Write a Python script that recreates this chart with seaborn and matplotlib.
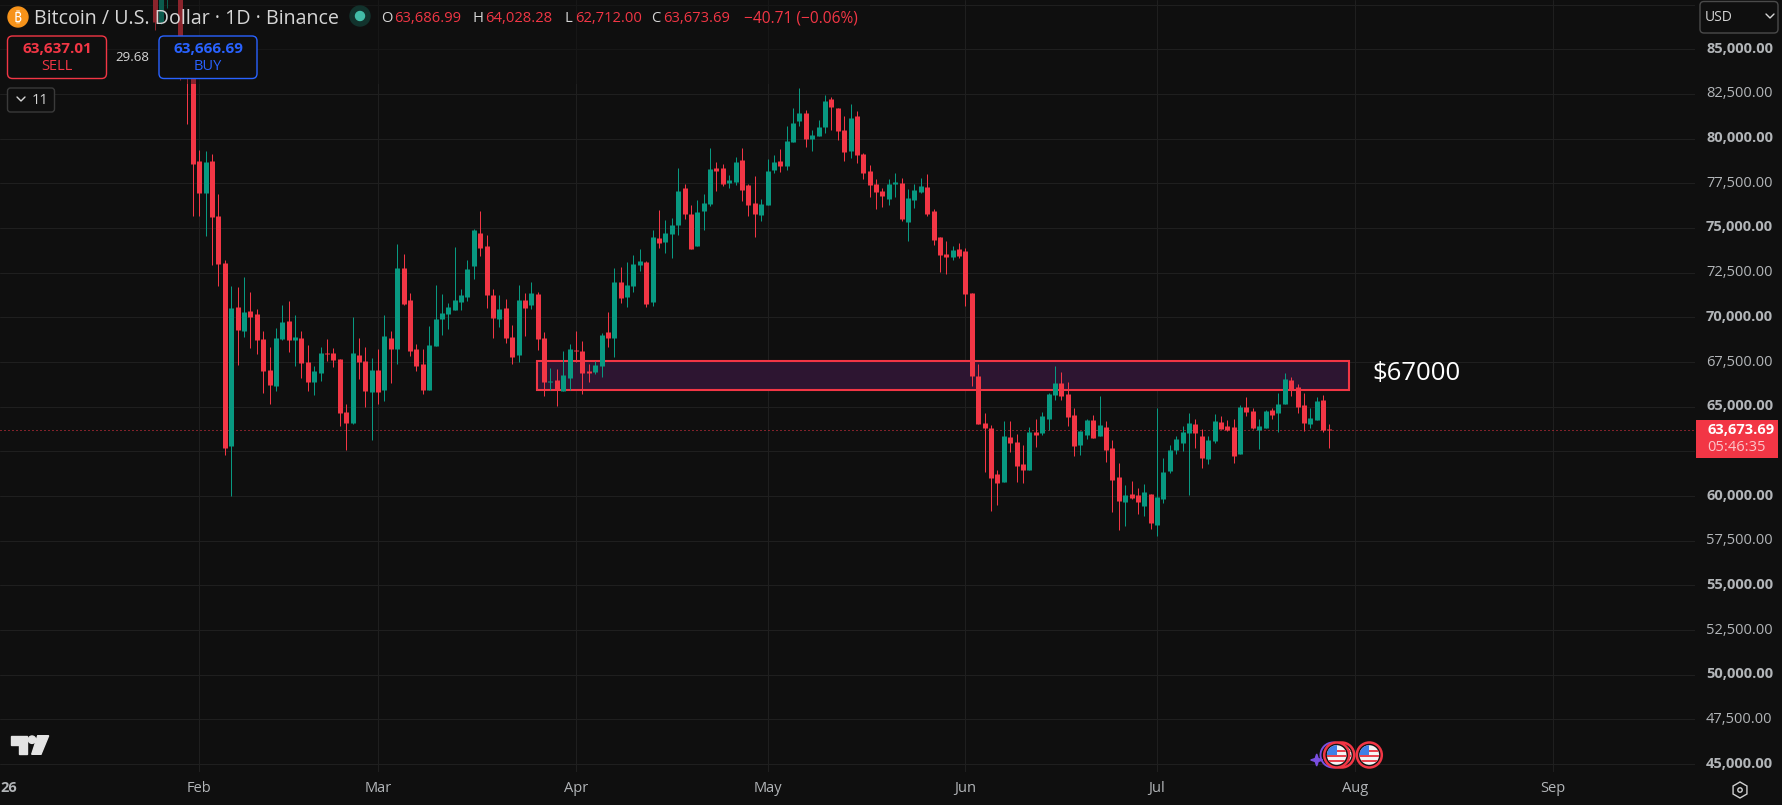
import numpy as np
import pandas as pd
import seaborn as sns
import matplotlib.pyplot as plt
import matplotlib.dates as mdates
from matplotlib.lines import Line2D
from matplotlib.patches import Circle, FancyBboxPatch, Polygon, Rectangle, RegularPolygon
from matplotlib.transforms import Affine2D

W, H = 1782, 805
BG = '#0f0f0f'
RED = '#f23645'
GREEN = '#089981'
BLUE = '#2962ff'
GRID = '#1f1f1f'
LABEL = '#b2b5b8'

# daily candles, 25 Jan to 28 Jul 2026
first_day = '2026-01-25'
opens = [88500, 86550, 88000, 89500, 88800, 85000, 84000,
         78750, 76960, 78750, 75673, 73025, 62823, 70581, 69257, 70358, 70189,
         68791, 67056, 66180, 68791, 69798, 68753, 68847, 67504, 66404, 66907,
         68007, 68007, 67672, 64706, 64090, 67895, 67560, 65844, 67056, 65956,
         68847, 68250, 72745, 70973, 68213, 67392, 65956, 68418, 69910, 70189,
         70413, 70861, 71140, 72875, 74721, 73994, 71252, 69909, 70525, 68902,
         67895, 70973, 70693, 71308, 68846, 66385, 66497, 65881, 66608, 68175,
         68119, 67000, 66944, 67280, 69182, 68846, 71980, 71140, 71756, 72931,
         73099, 70861, 74441, 74217, 74665, 75169, 77239, 75784, 73994, 75952,
         76344, 78358, 78358, 77519, 77575, 78807, 77408, 76401, 75729, 76289,
         78247, 78751, 78471, 79814, 80989, 81436, 79981, 80149, 80653, 82219,
         81716, 80485, 79310, 81268, 79142, 78191, 77464, 77072, 76624, 77464,
         77520, 75338, 76569, 77016, 77296, 75953, 74498, 73547, 73379, 73827,
         73715, 71365, 66719, 64089, 63809, 61236, 60788, 63306, 63026, 61795,
         61460, 63585, 63530, 64313, 65656, 66327, 65712, 64537, 62858, 63418,
         64257, 63362, 63865, 62690, 61068, 59669, 60117, 60061, 59445, 60117,
         58382, 59837, 61404, 62578, 62970, 63530, 64033, 63361, 62074, 63081,
         64144, 63920, 63864, 62354, 64983, 64760, 63696, 63808, 64816, 64648,
         65151, 66494, 66102, 65095, 64032, 64256, 65375, 63686.99]
highs = [89000, 88800, 89500, 90000, 89500, 85200, 84100,
         79365, 79310, 79142, 76885, 73192, 71738, 71682, 72241, 71402, 70451,
         69220, 68325, 69406, 70675, 70899, 70115, 69220, 68455, 67280, 68325,
         68772, 68269, 67672, 65154, 70003, 68828, 68325, 67709, 68213, 70115,
         69220, 74088, 73528, 71346, 68493, 68213, 69500, 71794, 71309, 70787,
         73938, 71588, 73211, 74945, 75952, 74609, 71588, 71252, 71028, 69574,
         71812, 71364, 71980, 71420, 69182, 67168, 67112, 68119, 68511, 69238,
         68679, 67392, 67559, 69126, 70301, 72763, 72819, 73099, 73490, 73826,
         73155, 74889, 76008, 75448, 75560, 78358, 77463, 76288, 76567, 76903,
         79478, 78694, 78582, 77966, 78974, 79478, 77464, 77911, 76624, 78862,
         79086, 79422, 80709, 81716, 82835, 81604, 80485, 81044, 82443, 82331,
         81716, 81268, 81940, 81548, 79198, 78527, 77743, 77240, 77743, 78079,
         77799, 77184, 77464, 77799, 78023, 76065, 74498, 74275, 73995, 74163,
         73883, 71365, 67390, 64649, 63977, 61460, 64182, 64182, 63474, 62858,
         63865, 64313, 64705, 65768, 67278, 66942, 66383, 64928, 63642, 64313,
         64537, 65600, 64182, 63138, 61851, 60620, 60844, 60452, 60676, 60117,
         64928, 62131, 62858, 63362, 63921, 64649, 64313, 63752, 63361, 64592,
         64480, 64256, 64312, 65095, 65543, 64928, 64312, 64816, 64928, 65767,
         66886, 66662, 66270, 65767, 64928, 65543, 65655, 64028.28]
lows = [86080, 86400, 87311, 88200, 83282, 80839, 75692,
        75692, 74572, 72950, 71775, 62320, 60025, 67355, 68921, 68306, 67970,
        65788, 65173, 65900, 68735, 68082, 67299, 66628, 65900, 65676, 66460,
        67578, 67243, 63942, 62600, 64054, 66553, 65005, 63159, 65173, 65341,
        66348, 67411, 70693, 67858, 67019, 65732, 65956, 68418, 69015, 69350,
        70413, 70413, 70917, 72147, 73434, 70525, 68846, 69462, 68567, 67392,
        67504, 68958, 70469, 68175, 65601, 65937, 65042, 65881, 65937, 67500,
        65713, 66385, 66832, 66664, 68343, 67783, 70804, 70581, 71420, 72595,
        70581, 70637, 73882, 73602, 73322, 74609, 75504, 73826, 73994, 74889,
        76232, 77071, 77351, 77239, 77407, 76513, 75673, 74498, 75394, 76289,
        78079, 78135, 78247, 79814, 80709, 79534, 79310, 80149, 80317, 80485,
        79926, 78751, 78918, 78639, 77743, 76736, 76065, 76177, 76289, 76736,
        75394, 74275, 76121, 76960, 75673, 74051, 72540, 72428, 73211, 73323,
        70638, 66159, 64033, 61348, 59166, 59501, 60788, 62467, 60788, 60732,
        61460, 62746, 63418, 63698, 65376, 65376, 63921, 62243, 62299, 63194,
        63250, 63362, 61907, 59110, 58102, 58327, 59837, 58998, 58886, 58158,
        57767, 59613, 61292, 62355, 62523, 60068, 62690, 61570, 61794, 62969,
        63752, 63622, 61850, 62354, 64480, 63752, 62634, 63808, 64312, 63585,
        65151, 65599, 64648, 63641, 63808, 64256, 63585, 62712.00]
closes = [86528, 88200, 88900, 88800, 84401, 84000, 78582,
          76960, 78694, 75635, 73006, 62711, 70525, 69313, 70302, 70040, 68753,
          67019, 66236, 68847, 69742, 68753, 68903, 67467, 66404, 67001, 68007,
          67951, 67634, 64669, 64109, 68007, 67504, 65900, 67056, 65844, 68959,
          68250, 72745, 70749, 68138, 67299, 65956, 68437, 69910, 70245, 70581,
          70973, 71252, 72707, 74889, 73882, 71252, 69965, 70469, 68846, 67783,
          70973, 70525, 71364, 68790, 66385, 66441, 65937, 66776, 68231, 68119,
          66888, 66888, 67336, 69014, 68846, 71980, 71084, 71812, 72987, 73155,
          70749, 74497, 74162, 74721, 75169, 77071, 75784, 73826, 75896, 76400,
          78302, 78190, 77463, 77686, 78694, 77128, 76289, 75785, 76345, 78191,
          78695, 78471, 79870, 80877, 81436, 79981, 80205, 80653, 82108, 81772,
          80429, 79254, 81156, 79086, 78079, 77408, 77016, 76792, 77464, 77576,
          75505, 76680, 77128, 77352, 75785, 74330, 73491, 73379, 73771, 73435,
          71309, 66719, 64033, 63809, 61012, 60732, 63362, 62970, 61683, 61460,
          63585, 63418, 64481, 65712, 66327, 65600, 64425, 62802, 63642, 64257,
          63250, 63977, 62578, 60900, 59725, 60061, 59893, 59669, 60229, 58494,
          59949, 61348, 62578, 63194, 63585, 64089, 63530, 62130, 63137, 64200,
          63752, 63696, 62242, 64983, 64704, 63808, 63920, 64760, 64536, 65151,
          66550, 65934, 64983, 64088, 64368, 65319, 63697, 63673.69]

last_price = 63673.69
zone_top = 67557
zone_bottom = 65934
zone_start = '2026-03-25 20:00'
zone_end = '2026-07-31 01:00'

price_ticks = list(range(45000, 90000, 2500))
hidden_price_labels = [62500, 87500]  # sit under the price tag and the USD button
month_ticks = ['2026-02-01', '2026-03-01', '2026-04-01', '2026-05-01',
               '2026-06-01', '2026-07-01', '2026-08-01', '2026-09-01']
month_labels = ['Feb', 'Mar', 'Apr', 'May', 'Jun', 'Jul', 'Aug', 'Sep']

sns.set_theme(style='dark', rc={
    'figure.facecolor': BG, 'axes.facecolor': BG, 'savefig.facecolor': BG,
    'axes.grid': True, 'grid.color': GRID, 'grid.linewidth': 0.72,
    'axes.edgecolor': BG, 'axes.linewidth': 0,
})
plt.rcParams['font.family'] = ['Open Sans', 'DejaVu Sans']

days = pd.date_range(first_day, periods=len(opens), freq='D')
df = pd.DataFrame({'day': days, 'open': opens, 'high': highs, 'low': lows, 'close': closes})
df['side'] = np.where(df['close'] > df['open'], 'up', 'down')
palette = {'up': GREEN, 'down': RED}

# a doji still shows as a one pixel tick
df['body_low'] = df[['open', 'close']].min(axis=1)
df['body_high'] = df[['open', 'close']].max(axis=1).clip(lower=df['body_low'] + 60)

wicks = df.melt(id_vars=['day', 'side'], value_vars=['low', 'high'], value_name='price')
bodies = df.melt(id_vars=['day', 'side'], value_vars=['body_low', 'body_high'], value_name='price')

fig = plt.figure(figsize=(W / 100, H / 100), dpi=100)
ax = fig.add_axes([0, 33 / H, 1695 / W, 772 / H])

feb1 = pd.Timestamp('2026-02-01')
ax.axhline(last_price, color=RED, lw=0.72, dashes=(1, 3), zorder=1.8)
zx0, zx1 = mdates.date2num(pd.Timestamp(zone_start)), mdates.date2num(pd.Timestamp(zone_end))
ax.add_patch(Rectangle((zx0, zone_bottom), zx1 - zx0, zone_top - zone_bottom,
                       facecolor='#2d1531', edgecolor=RED, lw=1.5, zorder=1.5))

sns.lineplot(data=wicks, x='day', y='price', units='day', estimator=None, hue='side',
             palette=palette, sort=False, lw=0.72, legend=False, ax=ax, solid_capstyle='butt')
sns.lineplot(data=bodies, x='day', y='price', units='day', estimator=None, hue='side',
             palette=palette, sort=False, lw=3.6, legend=False, ax=ax, solid_capstyle='butt')

ax.set_xlim(feb1 - pd.Timedelta(days=31.21), feb1 + pd.Timedelta(days=234.25))
ax.set_ylim(44557, 87759)
ax.set_xlabel('')
ax.set_ylabel('')
ax.set_xticks(pd.to_datetime(month_ticks))
ax.set_xticklabels(month_labels)
ax.set_yticks(price_ticks)
ax.set_yticklabels(['' if p in hidden_price_labels else f'{p:,.2f}' for p in price_ticks])
ax.yaxis.tick_right()
ax.tick_params(axis='y', length=0, pad=8, labelsize=10.5, labelcolor=LABEL)
ax.tick_params(axis='x', length=0, pad=6.5, labelsize=10.5, labelcolor=LABEL)
for p, lab in zip(price_ticks, ax.get_yticklabels()):
    lab.set_transform(lab.get_transform() + Affine2D().translate(0, 2))
    if p % 5000 == 0:
        lab.set_fontweight('bold')
ax.grid(True, color=GRID, lw=0.72)
ax.set_axisbelow(True)

# overlays, in image pixels measured from the top left
px = Affine2D().scale(1, -1).translate(0, H)


def label(x, y, s, color='#d6d6d6', size=10.5, ha='left', **kw):
    fig.text(x, y, s, color=color, fontsize=size, ha=ha, va='center', transform=px, **kw)


def rbox(x0, y0, x1, y1, edge, r=5, face=BG, lw=1.0):
    fig.add_artist(FancyBboxPatch((x0, y0), x1 - x0, y1 - y0, boxstyle=f'round,pad=0,rounding_size={r}',
                                  facecolor=face, edgecolor=edge, lw=lw, transform=px, zorder=2))


def chevron(x, y, color='#d6d6d6'):
    fig.add_artist(Line2D([x - 4, x, x + 4], [y - 2, y + 2, y - 2], color=color, lw=1, transform=px, zorder=3))


# legend strip dims the candles under the header
fig.add_artist(Rectangle((0, 0), 870, 84, facecolor=BG, edgecolor='none', alpha=0.45, transform=px, zorder=1))

fig.add_artist(Circle((18, 17), 10, color='#f7931a', transform=px, zorder=2))
label(18, 18, '₿', color='white', size=10, ha='center', fontweight='bold',
      family=['Noto Sans', 'Roboto', 'Inter', 'Lato', 'Liberation Sans', 'DejaVu Sans'])
label(34, 18.5, 'Bitcoin / U.S. Dollar · 1D · Binance', size=14.1)
fig.add_artist(Circle((360, 16), 10, color='#12332d', transform=px, zorder=2))
fig.add_artist(Circle((360, 16), 4.5, color='#42bda8', transform=px, zorder=3))
for x, letter, vx, val in [(381, 'O', 394, '63,686.99'), (472.5, 'H', 485, '64,028.28'),
                           (564.5, 'L', 575, '62,712.00'), (651, 'C', 663, '63,673.69')]:
    label(x, 18, letter, size=10.6)
    label(vx, 18, val, color=RED, size=10.6)
label(744, 18, '−40.71 (−0.06%)', color=RED, size=11.2)

rbox(7.5, 36, 106.5, 78.5, RED)
label(57, 49, '63,637.01', color=RED, ha='center', fontweight='bold', size=11)
label(57, 66, 'SELL', color=RED, ha='center')
label(132, 57, '29.68', ha='center', size=9.5)
rbox(159, 36, 257, 78.5, BLUE)
label(208, 49, '63,666.69', color=BLUE, ha='center', fontweight='bold', size=11)
label(208, 66, 'BUY', color=BLUE, ha='center')
rbox(7.5, 88, 54.5, 112, '#3a3a3a', r=3)
chevron(21, 99)
label(40, 100, '11', ha='center')

rbox(1700, 1.5, 1778, 33, '#4a4a4a', r=4)
label(1705, 17, 'USD', size=10)
chevron(1770, 16)

label(1372, 373, '$67000', color='white', size=18.5, fontweight='medium')
fig.add_artist(Rectangle((1696, 420), 82, 38, facecolor=RED, edgecolor='none', transform=px, zorder=2))
label(1707, 430, '63,673.69', color='white', fontweight='bold')
label(1707, 447, '05:46:35', color='#fbc5ca')
label(9, 788, '26', color=LABEL, ha='center', fontweight='bold')

# tradingview mark
mark = '#e4e4e4'
fig.add_artist(Polygon([(11, 735.7), (26.7, 735.7), (26.7, 754.3), (19, 754.3), (19, 745), (11, 745)],
                       color=mark, transform=px, zorder=2))
fig.add_artist(Circle((32, 739.7), 3.7, color=mark, transform=px, zorder=2))
fig.add_artist(Polygon([(37.7, 735.7), (48.7, 735.7), (41, 754.3), (31.7, 754.3)],
                       color=mark, transform=px, zorder=2))


def flag(cx, cy):
    fig.add_artist(Circle((cx, cy), 12.5, facecolor='#141414', edgecolor=RED, lw=1.8, transform=px, zorder=2))
    disc = Circle((cx, cy), 9.8, facecolor='#f4f4f4', edgecolor='none', transform=px, zorder=2)
    fig.add_artist(disc)
    for dy in (-5, 0, 5):
        stripe = Rectangle((cx - 10, cy + dy - 0.1), 20, 2.4, facecolor='#e8434f', edgecolor='none',
                           transform=px, zorder=2)
        fig.add_artist(stripe)
        stripe.set_clip_path(disc)
    canton = Rectangle((cx - 10, cy - 10), 10, 10, facecolor='#3f7fe8', edgecolor='none', transform=px, zorder=2)
    fig.add_artist(canton)
    canton.set_clip_path(disc)


fig.add_artist(Circle((1333, 755), 12.5, facecolor='none', edgecolor='#7a4fe0', lw=1.4, transform=px, zorder=2))
sx, sy = 1316.7, 760
fig.add_artist(Polygon([(sx, sy - 6), (sx + 1.5, sy - 1.5), (sx + 6, sy), (sx + 1.5, sy + 1.5),
                        (sx, sy + 6), (sx - 1.5, sy + 1.5), (sx - 6, sy), (sx - 1.5, sy - 1.5)],
                       color='#7a4fe0', transform=px, zorder=2))
flag(1341.7, 755)
flag(1336.7, 755)
flag(1369.3, 755)

fig.add_artist(RegularPolygon((1740, 790), 6, radius=8, facecolor='none', edgecolor='#d0d0d0', lw=1,
                              transform=px, zorder=2))
fig.add_artist(Circle((1740, 790), 2.2, facecolor='none', edgecolor='#d0d0d0', lw=1, transform=px, zorder=2))

fig.savefig('out.png', dpi=100)
